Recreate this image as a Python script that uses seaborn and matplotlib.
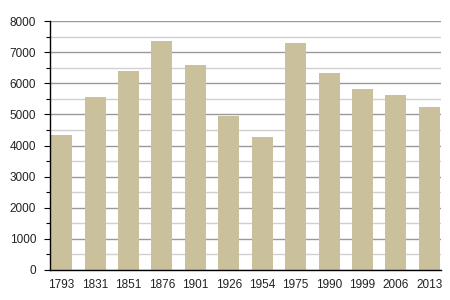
import matplotlib
matplotlib.use("Agg")
import matplotlib.pyplot as plt
import seaborn as sns
import pandas as pd
from matplotlib.ticker import MultipleLocator

years = ["1793", "1831", "1851", "1876", "1901", "1926", "1954", "1975", "1990", "1999", "2006", "2013"]
population = [4340, 5560, 6400, 7360, 6590, 4950, 4280, 7300, 6330, 5820, 5630, 5240]

df = pd.DataFrame({"year": years, "pop": population})

sns.set_theme(style="white")
plt.rcParams['font.family'] = ['Liberation Sans', 'DejaVu Sans']

fig = plt.figure(figsize=(4.5, 3), dpi=100)
ax = fig.add_axes([0.111, 0.1, 0.869, 0.83])

sns.barplot(data=df, x="year", y="pop", color="#CBC09C", saturation=1, width=0.63,
            linewidth=0, edgecolor="none", ax=ax, zorder=3)

ax.set_ylim(0, 8000)
ax.set_xlim(-0.35, 11.35)
ax.yaxis.set_major_locator(MultipleLocator(1000))
ax.yaxis.set_minor_locator(MultipleLocator(500))
ax.grid(axis="y", which="major", color="#999999", linewidth=1.0, zorder=0)
ax.grid(axis="y", which="minor", color="#d0d0d0", linewidth=1.0, zorder=0)
ax.set_axisbelow(True)
for b in ax.patches:
    b.set_zorder(3)

for s in ["top", "right"]:
    ax.spines[s].set_visible(False)
for s in ["left", "bottom"]:
    ax.spines[s].set_color("black")
    ax.spines[s].set_linewidth(1.0)
    ax.spines[s].set_zorder(4)

ax.tick_params(axis="y", which="major", left=True, length=4, width=0.8, color="black", labelsize=8.5, pad=6, labelcolor="#222222")
ax.tick_params(axis="y", which="minor", left=True, length=3, width=0.8, color="black")
ax.tick_params(axis="x", which="both", bottom=False, labelsize=8.5, pad=0.5, labelcolor="#222222")
ax.set_xlabel("")
ax.set_ylabel("")

fig.savefig("out.png", dpi=100)
